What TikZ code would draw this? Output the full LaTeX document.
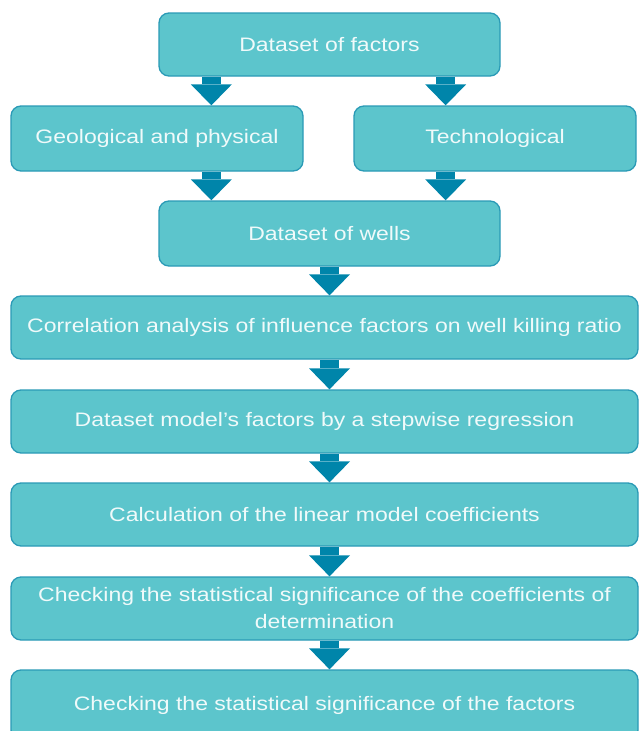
\documentclass[tikz,border=0pt]{standalone}
\usepackage{fontspec}
\setmainfont{Liberation Sans}[FakeStretch=1.18]
\usetikzlibrary{arrows.meta,calc}
\definecolor{boxfill}{HTML}{5CC5CC}
\definecolor{boxline}{HTML}{2A9AB6}
\definecolor{arrowc}{HTML}{0085AA}
\definecolor{txt}{HTML}{F0FAFA}
\begin{document}
\begin{tikzpicture}[x=1pt,y=-1pt,
  box/.style={draw=boxline, line width=1.3pt, fill=boxfill, rounded corners=10pt,
    text=txt, font=\fontsize{19.5}{27}\selectfont, align=center, inner sep=0pt},
  flowarrow/.style={draw=arrowc, line width=19pt,
    -{Triangle[length=21pt,width=41pt,line width=0pt]}}]
\useasboundingbox (0,0) rectangle (640,731);
\node[box, minimum width=341pt, minimum height=63pt] (f) at (329.5,44.5) {Dataset of factors};
\node[box, minimum width=292pt, minimum height=65pt] (g) at (157,138.5) {Geological and physical};
\node[box, minimum width=282pt, minimum height=65pt] (t) at (495,138.5) {Technological};
\node[box, minimum width=341pt, minimum height=65pt] (w) at (329.5,233.5) {Dataset of wells};
\node[box, minimum width=627pt, minimum height=63pt] (c) at (324.5,327.5) {Correlation analysis of influence factors on well killing ratio};
\node[box, minimum width=627pt, minimum height=63pt] (m) at (324.5,421.5) {Dataset model's factors by a stepwise regression};
\node[box, minimum width=627pt, minimum height=63pt] (k) at (324.5,514.5) {Calculation of the linear model coefficients};
\node[box, minimum width=627pt, minimum height=63pt] (s) at (324.5,608.5) {Checking the statistical significance of the coefficients of\\determination};
\node[box, minimum width=627pt, minimum height=70pt] (z) at (324.5,705) {Checking the statistical significance of the factors};
\draw[flowarrow] ([xshift=53pt]f.south west) -- ([xshift=53pt]f.south west |- g.north);
\draw[flowarrow] ([xshift=-55pt]f.south east) -- ([xshift=-55pt]f.south east |- t.north);
\draw[flowarrow] ([xshift=53pt]w.north west |- g.south) -- ([xshift=53pt]w.north west);
\draw[flowarrow] ([xshift=-55pt]w.north east |- t.south) -- ([xshift=-55pt]w.north east);
\draw[flowarrow] (w.south) -- (w.south |- c.north);
\draw[flowarrow] (w.south |- c.south) -- (w.south |- m.north);
\draw[flowarrow] (w.south |- m.south) -- (w.south |- k.north);
\draw[flowarrow] (w.south |- k.south) -- (w.south |- s.north);
\draw[flowarrow] (w.south |- s.south) -- (w.south |- z.north);
\end{tikzpicture}
\end{document}
